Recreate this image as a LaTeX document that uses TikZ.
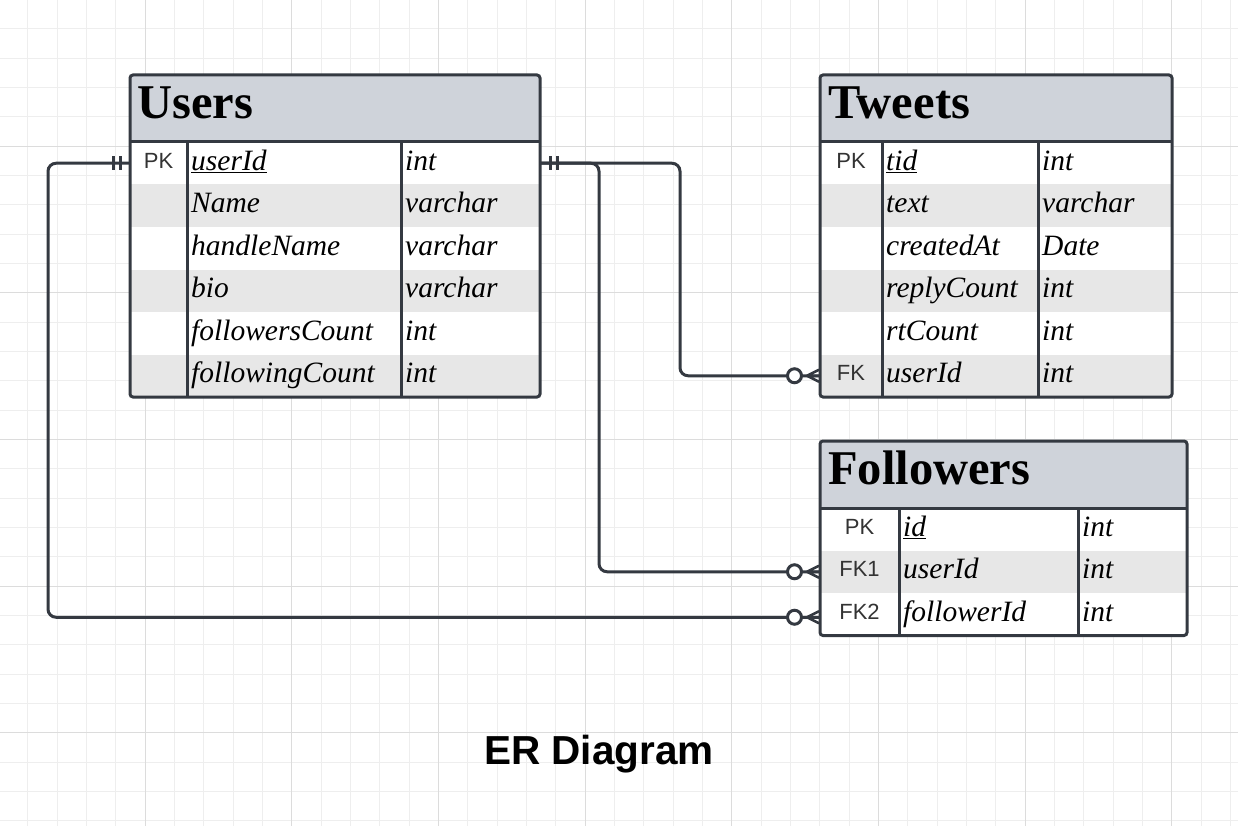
\documentclass[tikz,border=0pt]{standalone}
\usepackage{fontspec}
\setmainfont{Liberation Serif}
\setsansfont{Liberation Sans}
\usetikzlibrary{positioning}
\definecolor{edge}{HTML}{343941}
\definecolor{headfill}{HTML}{CFD3DA}
\definecolor{rowfill}{HTML}{E7E7E7}
\definecolor{keygray}{HTML}{333333}
\definecolor{gridminor}{HTML}{EEEEEE}
\definecolor{gridmajor}{HTML}{DCDCDC}

\tikzset{
  onebar/.pic={\draw[edge, line width=3pt] (10,-7) -- (10,7) (17,-7) -- (17,7);},
  zeromany/.pic={
    \draw[edge, line width=2.5pt] (-13,0) -- (-1,-6) (-13,0) -- (-1,0) (-13,0) -- (-1,6);
    \draw[edge, line width=3pt, fill=white] (-25.5,0) circle (7pt);}
}

\begin{document}
\begin{tikzpicture}[x=1pt, y=-1pt,
    head/.style={fill=headfill, minimum width=#1, minimum height=67pt, inner sep=0pt, outer sep=0pt, anchor=north west},
    row/.style={minimum width=#1, minimum height=42.5pt, inner sep=0pt, outer sep=0pt, anchor=north west},
    ttl/.style={anchor=base west, inner sep=0pt, font=\bfseries\fontsize{48.5}{52}\selectfont},
    keytxt/.style={anchor=base, inner sep=0pt, text=keygray, font=\sffamily\fontsize{22}{24}\selectfont},
    attr/.style={anchor=base west, inner sep=0pt, font=\itshape\fontsize{29.5}{32}\selectfont},
    border/.style={draw=edge, line width=3pt},
    conn/.style={draw=edge, line width=3pt, rounded corners=8pt}]

    % page and grid
    \useasboundingbox[fill=white] (0,0) rectangle (1238,826);
    \foreach \gx in {-1.5,27.83,...,1240} \draw[gridminor, line width=1pt] (\gx,0) -- (\gx,826);
    \foreach \gy in {-0.5,28.83,...,830} \draw[gridminor, line width=1pt] (0,\gy) -- (1238,\gy);
    \foreach \gx in {-1.5,145.15,...,1240} \draw[gridmajor, line width=1pt] (\gx,0) -- (\gx,826);
    \foreach \gy in {-0.5,146.15,...,830} \draw[gridmajor, line width=1pt] (0,\gy) -- (1238,\gy);

    % Users
    \node[head=410pt] (users) at (130,75) {};
    \node[ttl] (users-t) at ([xshift=7pt,yshift=-10pt]users.west) {Users};
    \foreach \k/\a/\t [count=\i] in {PK/\underline{userId}/int, /Name/varchar, /handleName/varchar,
        /bio/varchar, /followersCount/int, /followingCount/int} {
      \ifodd\i \def\rf{white}\else\def\rf{rowfill}\fi
      \node[row=410pt, fill=\rf] (users-\i) at (130,{142+42.5*(\i-1)}) {};
      \node[keytxt] (users-k\i) at ([xshift=28.5pt,yshift=-5pt]users-\i.west) {\k};
      \node[attr] (users-a\i) at ([xshift=61pt,yshift=-7pt]users-\i.west) {\a};
      \node[attr] (users-d\i) at ([xshift=275pt,yshift=-7pt]users-\i.west) {\t};
    }
    \draw[border, rounded corners=3pt] (users.north west) rectangle (users-6.south east);
    \draw[border] (users.south west) -- (users.south east);
    \draw[border] ([xshift=57pt]users-1.north west) -- ([xshift=57pt]users-6.south west);
    \draw[border] ([xshift=271pt]users-1.north west) -- ([xshift=271pt]users-6.south west);

    % Tweets
    \node[head=352pt] (tweets) at (820,75) {};
    \node[ttl] (tweets-t) at ([xshift=8pt,yshift=-10pt]tweets.west) {Tweets};
    \foreach \k/\a/\t [count=\i] in {PK/\underline{tid}/int, /text/varchar, /createdAt/Date,
        /replyCount/int, /rtCount/int, FK/userId/int} {
      \ifodd\i \def\rf{white}\else\def\rf{rowfill}\fi
      \node[row=352pt, fill=\rf] (tweets-\i) at (820,{142+42.5*(\i-1)}) {};
      \node[keytxt] (tweets-k\i) at ([xshift=31pt,yshift=-5pt]tweets-\i.west) {\k};
      \node[attr] (tweets-a\i) at ([xshift=66pt,yshift=-7pt]tweets-\i.west) {\a};
      \node[attr] (tweets-d\i) at ([xshift=222pt,yshift=-7pt]tweets-\i.west) {\t};
    }
    \draw[border, rounded corners=3pt] (tweets.north west) rectangle (tweets-6.south east);
    \draw[border] (tweets.south west) -- (tweets.south east);
    \draw[border] ([xshift=62pt]tweets-1.north west) -- ([xshift=62pt]tweets-6.south west);
    \draw[border] ([xshift=218pt]tweets-1.north west) -- ([xshift=218pt]tweets-6.south west);

    % Followers
    \node[head=367pt] (followers) at (820,441) {};
    \node[ttl] (followers-t) at ([xshift=8pt,yshift=-10pt]followers.west) {Followers};
    \foreach \k/\a/\t [count=\i] in {PK/\underline{id}/int, FK1/userId/int, FK2/followerId/int} {
      \ifodd\i \def\rf{white}\else\def\rf{rowfill}\fi
      \node[row=367pt, fill=\rf] (followers-\i) at (820,{508+42.5*(\i-1)}) {};
      \node[keytxt] (followers-k\i) at ([xshift=39.5pt,yshift=-5pt]followers-\i.west) {\k};
      \node[attr] (followers-a\i) at ([xshift=83pt,yshift=-7pt]followers-\i.west) {\a};
      \node[attr] (followers-d\i) at ([xshift=262pt,yshift=-7pt]followers-\i.west) {\t};
    }
    \draw[border, rounded corners=3pt] (followers.north west) rectangle (followers-3.south east);
    \draw[border] (followers.south west) -- (followers.south east);
    \draw[border] ([xshift=79pt]followers-1.north west) -- ([xshift=79pt]followers-3.south west);
    \draw[border] ([xshift=258pt]followers-1.north west) -- ([xshift=258pt]followers-3.south west);

    % relations
    \draw[conn] (users-1.east) -- ([xshift=140pt]users-1.east) |- (tweets-6.west);
    \draw[conn] (users-1.east) -- ([xshift=59pt]users-1.east) |- (followers-2.west);
    \draw[conn] (users-1.west) -- ([xshift=-82pt]users-1.west) |- ([yshift=-3pt]followers-3.west);
    \path (users-1.east) pic {onebar};
    \path (users-1.west) pic[xscale=-1] {onebar};
    \path (tweets-6.west) pic {zeromany};
    \path (followers-2.west) pic {zeromany};
    \path ([yshift=-3pt]followers-3.west) pic {zeromany};

    \node[anchor=base, inner sep=0pt, font=\sffamily\bfseries\fontsize{40.5}{44}\selectfont] (caption) at (599,764) {ER Diagram};
\end{tikzpicture}
\end{document}
